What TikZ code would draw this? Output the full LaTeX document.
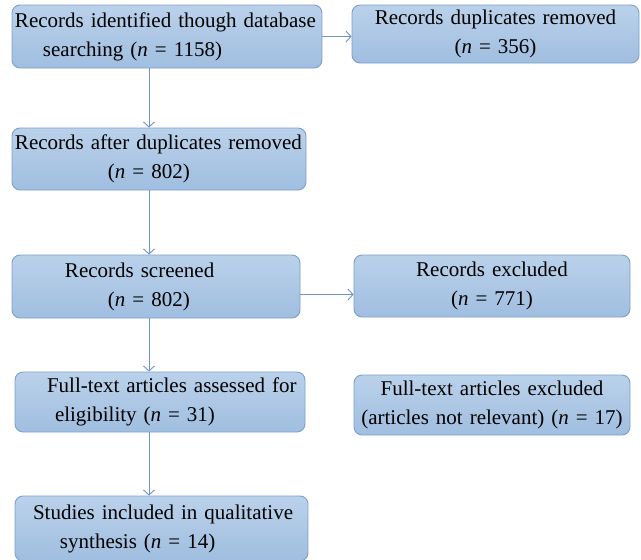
\documentclass[tikz,border=0pt]{standalone}
\usepackage{fontspec}
\setmainfont{Liberation Serif}
\usetikzlibrary{arrows.meta}
\definecolor{boxtop}{HTML}{BAD1EA}
\definecolor{boxbot}{HTML}{A0BEE0}
\definecolor{boxline}{HTML}{7D9FCB}
\definecolor{arrline}{HTML}{6F93C6}

\begin{document}
\begin{tikzpicture}[x=1pt,y=-1pt,>={Straight Barb[length=5pt,width=11pt]}]
 \tikzstyle{flowbox} = [draw=boxline,line width=0.9pt,rounded corners=8pt,top color=boxtop,bottom color=boxbot,inner xsep=3pt,inner ysep=0pt,font=\fontsize{21}{29}\selectfont]
 \tikzstyle{flowarrow} = [->,draw=arrline,line width=0.9pt]
 \newcommand{\itn}{\textit{n}}

 \useasboundingbox (0,0) rectangle (641,560);
 \coordinate (spine) at (149,0);

% Left column
 \node[flowbox,minimum width=310pt,minimum height=63pt,text width=304pt,align=left] (ident) at (167,36.5)
   {Records identified though database\\\hspace*{28pt}searching (\itn{} = 1158)};
 \node[flowbox,minimum width=294pt,minimum height=62pt,text width=288pt,align=left] (after) at (159,159)
   {Records after duplicates removed\\\hspace*{93pt}(\itn{} = 802)};
 \node[flowbox,minimum width=288pt,minimum height=63pt,text width=282pt,align=left] (screen) at (156,286.5)
   {\hspace*{50pt}Records screened\\\hspace*{93pt}(\itn{} = 802)};
 \node[flowbox,minimum width=290pt,minimum height=60pt,text width=284pt,align=left] (full) at (160,402)
   {\hspace*{29pt}Full-text articles assessed for\\\hspace*{37pt}eligibility (\itn{} = 31)};
 \node[flowbox,minimum width=293pt,minimum height=65pt,text width=287pt,align=left] (studies) at (161.5,528.5)
   {\hspace*{15pt}Studies included in qualitative\\\hspace*{42pt}synthesis (\itn{} = 14)};

% Right column
 \node[flowbox,minimum width=287pt,minimum height=58pt,text width=281pt,align=center] (dupl) at (495.5,34)
   {Records duplicates removed\\(\itn{} = 356)};
 \node[flowbox,minimum width=276pt,minimum height=62pt,text width=270pt,align=center] (excl) at (492,286)
   {Records excluded\\(\itn{} = 771)};
 \node[flowbox,minimum width=276pt,minimum height=60pt,text width=270pt,align=center] (ftexcl) at (492,405)
   {Full-text articles excluded\\(articles not relevant) (\itn{} = 17)};

% Arrows
 \draw[flowarrow] (ident.south -| spine) -- (after.north -| spine);
 \draw[flowarrow] (after.south -| spine) -- (screen.north -| spine);
 \draw[flowarrow] (screen.south -| spine) -- (full.north -| spine);
 \draw[flowarrow] (full.south -| spine) -- (studies.north -| spine);
 \draw[flowarrow] (ident.east) -- (ident.east -| dupl.west);
 \draw[flowarrow] ([yshift=-8pt]screen.east) -- ([yshift=-8pt]screen.east -| excl.west);

\end{tikzpicture}
\end{document}
